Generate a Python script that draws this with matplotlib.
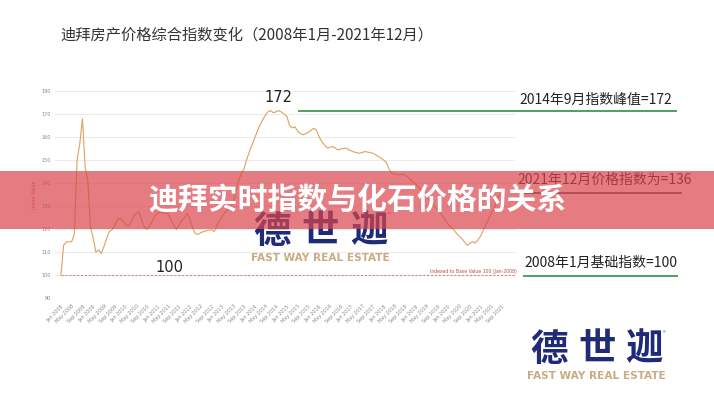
import matplotlib
matplotlib.use("Agg")
import matplotlib.pyplot as plt
from matplotlib.patches import Rectangle

plt.rcParams['font.family'] = ['Noto Sans CJK SC', 'DejaVu Sans']

# Monthly index values, Jan 2008 onwards
index_values = [
    100, 113, 114.5, 114.5, 114.6, 118, 150, 157, 168, 147, 141, 121,
    116, 110, 111, 109.5, 112.5, 116, 119, 119.8, 121.5, 124, 124.8, 123.5,
    122, 121.3, 123, 125.6, 127, 127.5, 124, 121, 119.8, 121.5, 123.5, 126,
    127, 127.5, 127, 127, 126.5, 124, 121.5, 119.8, 122, 124, 125, 127,
    124, 120.5, 118, 117.8, 118.5, 119, 119.3, 119.6, 119.8, 119, 121.5, 124,
    125.5, 127.3, 128.5, 130, 131.5, 136, 141, 144, 146, 150, 153.5, 156.5,
    159.5, 162.5, 165.3, 167.5, 169.5, 171, 171.5, 170.5, 171, 171.5, 170.8, 170,
    169, 165, 164, 164.5, 162.5, 161.5, 161, 161.5, 162, 163, 163.8, 163,
    160, 158, 156.5, 155.3, 155.5, 155.9, 155.2, 154.4, 154.8, 155, 155.2, 154.5,
    154, 153.5, 153.2, 153, 153.3, 153.7, 153.5, 153.2, 153, 152.3, 151.6, 150.8,
    150, 149, 146, 144.3, 144, 143.6, 143.7, 143.8, 143.6, 142.5, 141.5, 140.5,
    139.4, 138.2, 136.8, 135.3, 134, 132.5, 131, 129.8, 128.5, 127.3, 125.5, 123.8,
    122.2, 121, 119.8, 118.3, 117, 116, 114.5, 113, 113.8, 114.6, 114, 115.3,
    117, 119.5, 122, 124.5, 127, 129, 132, 135,
]
months = list(range(len(index_values)))

# x tick labels every four months
tick_years = list(range(2008, 2022))
tick_months = ["Jan", "May", "Sep"]
tick_labels = [f"{m} {y}" for y in tick_years for m in tick_months]
tick_pos = list(range(0, 4 * len(tick_labels), 4))
y_ticks = [90, 100, 110, 120, 130, 140, 150, 160, 170, 180]

base_value = 100
peak_value = 172
latest_value = 136
peak_month = 81

title = "迪拜房产价格综合指数变化（2008年1月-2021年12月）"
banner_title = "迪拜实时指数与化石价格的关系"
note_peak = "2014年9月指数峰值=172"
note_latest = "2021年12月价格指数为=136"
note_base = "2008年1月基础指数=100"

NAVY = "#1f2a78"
TAN = "#c9ab82"
GREEN = "#3f9a55"


def draw_logo(fig, xs, y, y_sub, size, zorder):
    # three characters of the logo, spaced out like the original
    for ch, x in zip("德世迦", xs):
        fig.text(x / 714, 1 - y / 400, ch, fontsize=size, fontweight="bold",
                 color=NAVY, ha="center", va="center", zorder=zorder)
    fig.text(xs[2] / 714 + 0.028, 1 - (y - 15) / 400, "®", fontsize=4,
             color=NAVY, ha="center", va="center", zorder=zorder)
    fig.text((xs[0] + xs[2]) / 2 / 714, 1 - y_sub / 400, "FAST WAY REAL ESTATE",
             fontsize=7.6, fontweight="bold", color=TAN, family="DejaVu Sans",
             ha="center", va="center", zorder=zorder)


def plot_index():
    fig = plt.figure(figsize=(7.14, 4), dpi=100)
    ax = fig.add_axes([55 / 714, 1 - 298.3 / 400, 460 / 714, 207.3 / 400])

    # the index line and the base value line
    ax.plot(months, index_values, color="#dea15f", lw=0.8, zorder=3)
    ax.hlines(base_value, 0, 169.5, colors="#d98585", lw=0.8,
              linestyles=(0, (2, 1.5)), zorder=2)

    ax.set_xlim(-2.2, 168.8)
    ax.set_ylim(90, 180)
    ax.set_yticks(y_ticks)
    ax.set_xticks(tick_pos)
    ax.set_xticklabels(tick_labels, rotation=45, ha="right",
                       rotation_mode="anchor", fontsize=3.5, color="#8a8a8a",
                       family="DejaVu Sans")
    ax.tick_params(axis="y", labelsize=3.5, labelcolor="#8a8a8a", length=0, pad=3)
    ax.tick_params(axis="x", length=0, pad=4)
    for lab in ax.get_yticklabels():
        lab.set_family("DejaVu Sans")
    ax.grid(axis="y", color="#ebebeb", lw=0.7)
    ax.set_axisbelow(True)
    for s in ax.spines.values():
        s.set_visible(False)
    ax.set_ylabel("Index Value", fontsize=3.5, color="#c06a5a", family="DejaVu Sans")
    ax.yaxis.set_label_coords(-0.039, 0.5)

    # value labels on the chart
    ax.text(peak_month, 177, str(peak_value), fontsize=10.5, color="#222222",
            ha="center", va="center", family="DejaVu Sans")
    ax.text(40.5, 103.3, str(base_value), fontsize=10.5, color="#222222",
            ha="center", va="center", family="DejaVu Sans")
    ax.text(169.5, 101.6, "Indexed to Base Value 100 (Jan-2008)", fontsize=3.3,
            color="#b84a4a", ha="right", va="center", family="DejaVu Sans")

    # notes on the right, with lines under them
    ax.hlines(171.4, 88, 229, colors=GREEN, lw=1.3, clip_on=False)
    ax.text(198.9, 176.1, note_peak, fontsize=10, color="#222222",
            ha="center", va="center", clip_on=False)
    ax.hlines(135.8, 170.6, 231, colors="#555555", lw=1.3, clip_on=False)
    ax.text(202.2, 141.3, note_latest, fontsize=10, color="#222222",
            ha="center", va="center", clip_on=False)
    ax.hlines(99.5, 171.7, 229.4, colors=GREEN, lw=1.3, clip_on=False)
    ax.text(200.8, 105.2, note_base, fontsize=10, color="#222222",
            ha="center", va="center", clip_on=False)

    # page title
    fig.text(60 / 714, 1 - 35 / 400, title, fontsize=11, color="#333333",
             ha="left", va="center")

    # watermark logo in the middle, and the logo bottom right
    draw_logo(fig, [272, 320, 369], 231, 258, 27, 5)
    draw_logo(fig, [549, 597, 644], 349, 376, 27, 5)

    # red banner over the chart
    fig.patches.append(Rectangle((0, 1 - 229 / 400), 1, 58 / 400,
                                 transform=fig.transFigure, color="#d9454c",
                                 alpha=0.7, zorder=6, lw=0))
    fig.text(0.5, 1 - 200 / 400, banner_title, fontsize=21.5, fontweight="bold",
             color="white", ha="center", va="center", zorder=7)

    fig.savefig("out.png", dpi=100)


def main():
    plot_index()


if __name__ == "__main__":
    main()
